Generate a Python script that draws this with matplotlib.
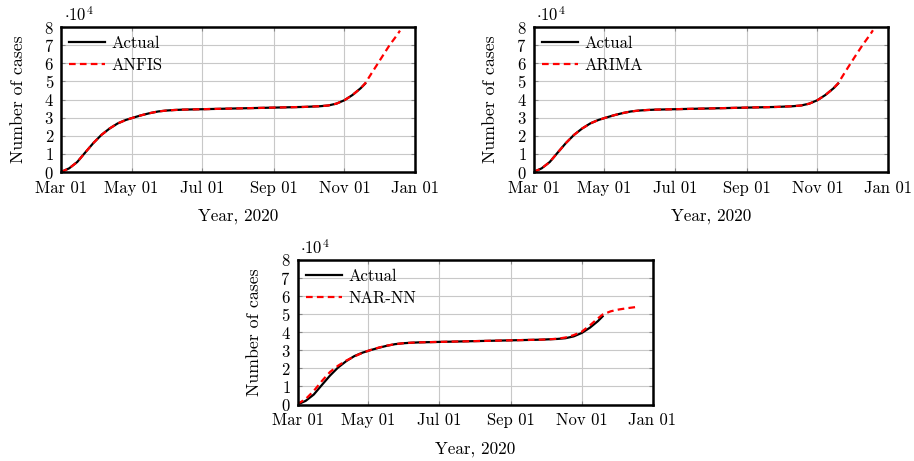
import numpy as np
import matplotlib
matplotlib.use("Agg")
import matplotlib.pyplot as plt
import matplotlib.dates as mdates

plt.rcParams['font.family'] = ['cmr10', 'DejaVu Serif']
plt.rcParams['mathtext.fontset'] = 'cm'
plt.rcParams['axes.formatter.use_mathtext'] = True

# ---- data (cases), sampled weekly from 2020-03-01, last actual point 2020-11-19 ----
actual_dates = list(np.arange(np.datetime64('2020-03-01'), np.datetime64('2020-11-16'),
                              np.timedelta64(7, 'D'))) + [np.datetime64('2020-11-19')]
actual = [0, 2000, 5500, 10800, 16000, 20500, 24000, 26800, 28700, 30100,
          31400, 32500, 33400, 33900, 34200, 34400, 34500, 34600, 34700, 34800,
          34900, 35000, 35100, 35200, 35300, 35400, 35500, 35600, 35700, 35800,
          35900, 36100, 36300, 36700, 37700, 39600, 42500, 46200, 48800]

forecast_dates = [np.datetime64('2020-11-26'), np.datetime64('2020-12-03'),
                  np.datetime64('2020-12-10'), np.datetime64('2020-12-17'),
                  np.datetime64('2020-12-19')]

anfis = actual[:-1] + [49000, 56000, 63000, 70000, 76000, 78000]
arima = actual[:-1] + [49000, 56200, 63200, 70000, 76200, 78200]
narnn = [300, 3000, 7500, 13000, 18000, 21500, 24300, 26600, 28600, 30200,
         31500, 32600, 33400, 33900, 34200, 34400, 34500, 34600, 34700, 34800,
         34900, 35000, 35100, 35200, 35300, 35400, 35500, 35600, 35700, 35800,
         35900, 36100, 36400, 37100, 38400, 40300, 43800, 47700, 49800,
         51600, 52600, 53300, 53900, 54000]

models = [("ANFIS", anfis), ("ARIMA", arima), ("NAR-NN", narnn)]

xticks = ['2020-03-01', '2020-05-01', '2020-07-01', '2020-09-01', '2020-11-01', '2021-01-01']

W, H = 914, 461
fig = plt.figure(figsize=(W / 100, H / 100), dpi=100)

boxes = [(61, 27, 415, 172), (533.5, 27, 888, 172), (297.5, 260, 652.5, 404.5)]

all_dates = actual_dates + forecast_dates
for (name, vals), (l, t, r, b) in zip(models, boxes):
    ax = fig.add_axes([l / W, 1 - b / H, (r - l) / W, (b - t) / H])
    x_act = np.array(actual_dates, dtype='datetime64[D]')
    x_all = np.array(all_dates, dtype='datetime64[D]')
    ax.plot(x_act, np.array(actual) / 1e4, color='black', lw=1.6, label='Actual')
    ax.plot(x_all, np.array(vals) / 1e4, color='red', lw=1.6, ls=(0, (3.0, 1.9)),
            label=name)
    ax.set_xlim(np.datetime64('2020-03-01'), np.datetime64('2021-01-01'))
    ax.set_ylim(0, 8)
    ax.set_yticks(range(0, 9))
    ax.set_xticks([np.datetime64(d) for d in xticks])
    ax.xaxis.set_major_formatter(mdates.DateFormatter('%b %d'))
    ax.grid(True, color='#c8c8c8', lw=0.8)
    ax.set_axisbelow(True)
    ax.tick_params(direction='in', length=3, width=0.8, color='#888888',
                   top=True, right=True, labelsize=12, pad=5)
    ax.tick_params(axis='x', pad=6)
    for s in ax.spines.values():
        s.set_linewidth(1.8)
    ax.set_ylabel('Number of cases', fontsize=12.8)
    ax.yaxis.set_label_coords(-0.1, 0.5)
    ax.set_xlabel('Year, 2020', fontsize=12.3)
    ax.xaxis.set_label_coords(0.5, -0.255)
    ax.text(0.008, 1.02, r'$\cdot 10^4$', transform=ax.transAxes, ha='left',
            va='bottom', fontsize=12)
    ax.legend(loc='upper left', frameon=False, fontsize=12, handlelength=2.15,
              handletextpad=0.4, labelspacing=0.4, borderaxespad=0.3,
              borderpad=0.2)

fig.savefig('out.png', dpi=100)
